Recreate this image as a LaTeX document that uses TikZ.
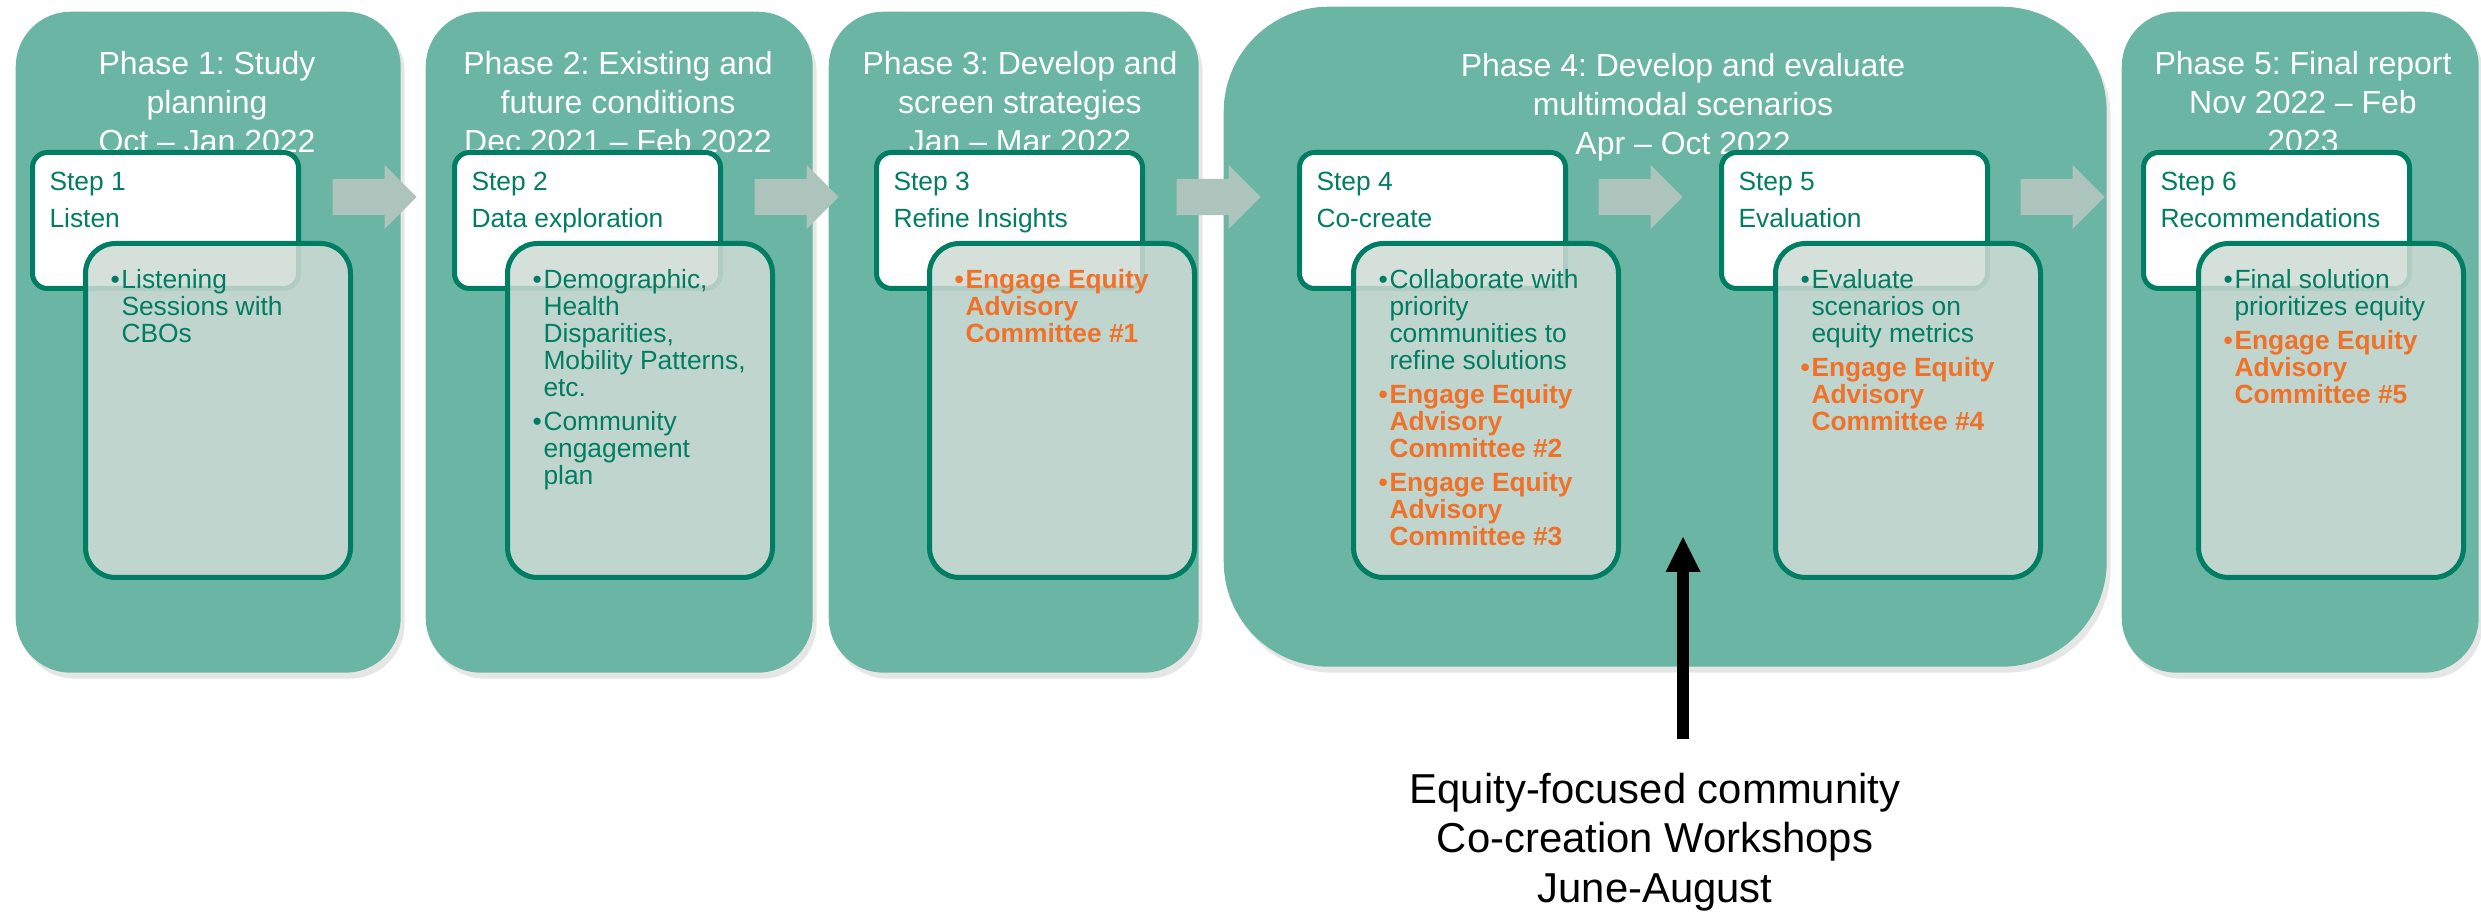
\documentclass[tikz,border=0pt]{standalone}
\usepackage{fontspec}
\setmainfont{Liberation Sans}
\usepackage{tikz}
\usetikzlibrary{shapes,arrows.meta,shadows}
\frenchspacing

\definecolor{phasefill}{RGB}{107,181,165}
\definecolor{stepgreen}{RGB}{0,125,98}
\definecolor{notefill}{RGB}{207,219,213}
\definecolor{linkfill}{RGB}{172,196,187}
\definecolor{eqorange}{RGB}{240,113,40}

% bullet lines inside the grey boxes
\newcommand{\bitem}[1]{\par\hangindent=1.1mm\hangafter=1\noindent\makebox[1.1mm][l]{\textbullet}#1\par}
\newcommand{\oitem}[1]{{\color{eqorange}\bfseries\bitem{#1}}}

\tikzset{%
  % Specifications for style of nodes:
         phase/.style = {rectangle, rounded corners=5.5mm, fill=phasefill,
                         anchor=north west, minimum height=66.1mm, inner sep=0pt,
                         drop shadow={shadow xshift=0.4mm, shadow yshift=-0.6mm, opacity=0.2}},
    phasetitle/.style = {anchor=north, inner sep=0pt, text=white, align=center,
                         font=\fontsize{9.1}{11}\selectfont},
       stepbox/.style = {rectangle, rounded corners=1.5mm, draw=stepgreen, line width=0.5mm,
                         fill=white, anchor=north west, inner xsep=0pt, inner ysep=2mm,
                         text=stepgreen, font=\fontsize{7.5}{10.5}\selectfont,
                         execute at begin node={\hspace*{1.7mm}\begin{minipage}[t][9.6mm][t]{24.9mm}},
                         execute at end node={\end{minipage}}},
       notebox/.style = {rectangle, rounded corners=3mm, draw=stepgreen, line width=0.5mm,
                         fill=notefill, fill opacity=0.85, text opacity=1,
                         anchor=north west, inner xsep=0pt, inner ysep=2.6mm,
                         text=stepgreen, font=\fontsize{7.5}{7.7}\selectfont,
                         execute at begin node={\hspace*{2.5mm}\begin{minipage}[t][28.2mm][t]{24mm}\parskip=0.65mm},
                         execute at end node={\end{minipage}}},
          link/.style = {single arrow, fill=linkfill, minimum height=8.4mm, minimum width=6.3mm,
                         single arrow head extend=1.4mm, inner xsep=0pt, inner ysep=1.75mm,
                         anchor=tail},
      workshop/.style = {line width=1.2mm, -{Triangle[width=3.5mm, length=3.5mm, line width=0pt]}},
       caption/.style = {anchor=north, inner sep=0pt, align=center,
                         font=\fontsize{11.9}{14.2}\selectfont},
}

\begin{document}
\begin{tikzpicture}[x=0.1mm, y=-0.1mm]
  \useasboundingbox (0,0) rectangle (2481,915);

  % phases
  \node (phase1) [phase, minimum width=38.5mm] at (15,11)   {};
  \node (phase2) [phase, minimum width=38.7mm] at (425,11)  {};
  \node (phase3) [phase, minimum width=37.0mm] at (828,11)  {};
  \node (phase4) [phase, minimum width=88.3mm, minimum height=66mm, rounded corners=10.5mm] at (1223,6) {};
  \node (phase5) [phase, minimum width=35.7mm] at (2121,11) {};

  \node (title1) [phasetitle] at (207,51)  {Phase 1: Study\\planning\\Oct -- Jan 2022};
  \node (title2) [phasetitle] at (618,51)  {Phase 2: Existing and\\future conditions\\Dec 2021 -- Feb 2022};
  \node (title3) [phasetitle] at (1020,51) {Phase 3: Develop and\\screen strategies\\Jan -- Mar 2022};
  \node (title4) [phasetitle] at (1683,53) {Phase 4: Develop and evaluate\\multimodal scenarios\\Apr -- Oct 2022};
  \node (title5) [phasetitle] at (2303,51) {Phase 5: Final report\\Nov 2022 -- Feb\\2023};

  % arrows between the steps
  \node (link1) [link] at (332,197)  {};
  \node (link2) [link] at (754,197)  {};
  \node (link3) [link] at (1176,197) {};
  \node (link4) [link] at (1598,197) {};
  \node (link5) [link] at (2020,197) {};

  % steps
  \node (step1) [stepbox] at (30,150)   {Step 1\\Listen};
  \node (step2) [stepbox] at (452,150)  {Step 2\\Data exploration};
  \node (step3) [stepbox] at (874,150)  {Step 3\\Refine Insights};
  \node (step4) [stepbox] at (1297,150) {Step 4\\Co-create};
  \node (step5) [stepbox] at (1719,150) {Step 5\\Evaluation};
  \node (step6) [stepbox] at (2141,150) {Step 6\\Recommendations};

  \node (notes1) [notebox] at (83,241)   {\bitem{Listening\\Sessions with\\CBOs}};
  \node (notes2) [notebox] at (505,241)  {\bitem{Demographic,\\Health\\Disparities,\\Mobility Patterns,\\etc.}
                                          \bitem{Community\\engagement\\plan}};
  \node (notes3) [notebox] at (927,241)  {\oitem{Engage Equity\\Advisory\\Committee \#1}};
  \node (notes4) [notebox] at (1351,241) {\bitem{Collaborate with\\priority\\communities to\\refine solutions}
                                          \oitem{Engage Equity\\Advisory\\Committee \#2}
                                          \oitem{Engage Equity\\Advisory\\Committee \#3}};
  \node (notes5) [notebox] at (1773,241) {\bitem{Evaluate\\scenarios on\\equity metrics}
                                          \oitem{Engage Equity\\Advisory\\Committee \#4}};
  \node (notes6) [notebox] at (2196,241) {\bitem{Final solution\\prioritizes equity}
                                          \oitem{Engage Equity\\Advisory\\Committee \#5}};

  % workshops
  \node (note) [caption] at (1655,772) {Equity-focused community\\Co-creation Workshops\\June-August};
  \coordinate (wsfoot) at (1683,739);
  \coordinate (wstip)  at (1683,537);
  \draw[workshop] (wsfoot) -- (wstip);
\end{tikzpicture}
\end{document}
